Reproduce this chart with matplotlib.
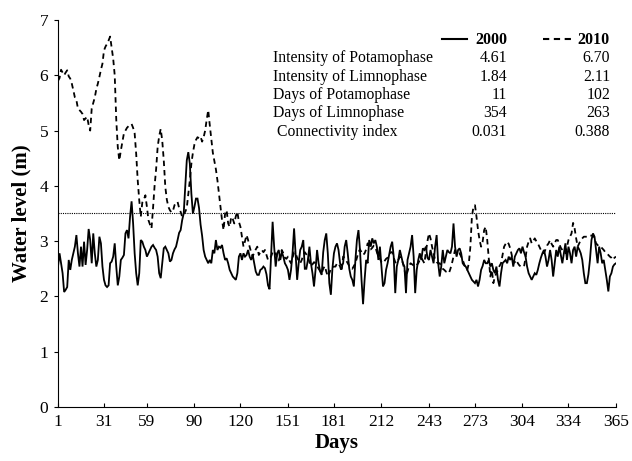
#!/usr/bin/env python
# -*- coding: utf-8 -*-

import numpy as np
import matplotlib
matplotlib.use("Agg")
import matplotlib.pyplot as plt
from matplotlib.lines import Line2D

plt.rcParams["font.family"] = "serif"
plt.rcParams["font.serif"] = ["Liberation Serif", "DejaVu Serif"]

# daily water level (m)
level_2000 = [
    2.54, 2.78, 2.60, 2.42, 2.08, 2.12, 2.17, 2.66, 2.48, 2.66,
    2.78, 2.90, 3.11, 2.78, 2.54, 2.90, 2.54, 2.99, 2.57, 2.84,
    3.22, 3.02, 2.60, 3.14, 2.78, 2.54, 2.66, 3.08, 2.96, 2.54,
    2.30, 2.20, 2.17, 2.20, 2.60, 2.63, 2.72, 2.96, 2.54, 2.20,
    2.36, 2.66, 2.70, 2.75, 3.14, 3.20, 3.05, 3.44, 3.72, 3.32,
    2.78, 2.42, 2.20, 2.42, 3.02, 2.99, 2.90, 2.84, 2.72, 2.78,
    2.84, 2.90, 2.93, 2.88, 2.84, 2.72, 2.42, 2.33, 2.60, 2.87,
    2.90, 2.84, 2.78, 2.63, 2.66, 2.78, 2.85, 2.90, 3.02, 3.15,
    3.20, 3.38, 3.50, 3.98, 4.46, 4.61, 4.40, 3.86, 3.50, 3.62,
    3.77, 3.77, 3.60, 3.30, 3.10, 2.84, 2.72, 2.66, 2.60, 2.66,
    2.60, 2.84, 2.78, 3.02, 2.84, 2.90, 2.88, 2.93, 2.78, 2.66,
    2.69, 2.60, 2.48, 2.42, 2.36, 2.33, 2.30, 2.42, 2.72, 2.78,
    2.66, 2.78, 2.72, 2.75, 2.84, 2.72, 2.66, 2.75, 2.60, 2.45,
    2.39, 2.39, 2.48, 2.50, 2.54, 2.51, 2.40, 2.20, 2.13, 2.75,
    3.35, 2.90, 2.54, 2.78, 2.84, 2.66, 2.80, 2.72, 2.60, 2.55,
    2.48, 2.30, 2.48, 2.78, 3.23, 2.75, 2.30, 2.60, 2.84, 2.90,
    3.02, 2.50, 2.50, 2.66, 2.90, 2.60, 2.42, 2.18, 2.48, 2.84,
    2.60, 2.45, 2.39, 2.80, 3.02, 3.14, 2.78, 2.24, 2.03, 2.50,
    2.78, 2.90, 2.96, 2.84, 2.60, 2.55, 2.60, 2.90, 3.02, 2.78,
    2.50, 2.36, 2.30, 2.18, 2.66, 3.02, 3.20, 2.84, 2.30, 1.86,
    2.30, 2.66, 2.60, 3.02, 2.90, 3.05, 2.96, 3.02, 2.90, 2.66,
    2.90, 2.54, 2.18, 2.24, 2.48, 2.60, 2.75, 2.90, 2.99, 2.72,
    2.06, 2.54, 2.66, 2.84, 2.72, 2.60, 2.54, 2.06, 2.66, 2.78,
    2.90, 3.11, 2.72, 2.06, 2.48, 2.66, 2.78, 2.66, 2.87, 2.84,
    2.90, 2.70, 2.66, 2.84, 2.72, 2.60, 2.90, 3.11, 2.60, 2.36,
    2.54, 2.84, 2.60, 2.72, 2.84, 2.80, 2.78, 2.90, 3.32, 2.90,
    2.72, 2.84, 2.87, 2.78, 2.60, 2.56, 2.54, 2.48, 2.42, 2.36,
    2.30, 2.27, 2.24, 2.30, 2.18, 2.30, 2.48, 2.55, 2.66, 2.60,
    2.60, 2.66, 2.54, 2.60, 2.48, 2.42, 2.54, 2.30, 2.18, 2.42,
    2.60, 2.63, 2.66, 2.60, 2.72, 2.66, 2.72, 2.54, 2.72, 2.78,
    2.84, 2.87, 2.78, 2.90, 2.80, 2.72, 2.54, 2.42, 2.36, 2.30,
    2.36, 2.42, 2.39, 2.48, 2.60, 2.70, 2.78, 2.84, 2.72, 2.54,
    2.66, 2.84, 2.66, 2.36, 2.60, 2.84, 2.72, 2.90, 2.75, 2.60,
    2.78, 2.96, 2.66, 2.90, 2.78, 2.60, 2.84, 2.90, 2.72, 2.90,
    2.85, 2.78, 2.66, 2.42, 2.24, 2.24, 2.40, 2.66, 3.02, 3.14,
    3.08, 2.84, 2.60, 2.90, 2.78, 2.60, 2.66, 2.48, 2.30, 2.09,
    2.36, 2.42, 2.54, 2.58, 2.60,
]

level_2010 = [
    5.90, 5.95, 6.10, 6.05, 6.00, 6.05, 6.09, 5.98, 5.94, 5.85,
    5.73, 5.60, 5.55, 5.40, 5.37, 5.34, 5.30, 5.19, 5.22, 5.25,
    5.10, 5.00, 5.40, 5.50, 5.60, 5.75, 5.85, 5.97, 6.10, 6.21,
    6.45, 6.52, 6.57, 6.63, 6.70, 6.50, 6.30, 6.00, 5.20, 4.70,
    4.46, 4.64, 4.80, 4.95, 5.00, 5.05, 5.08, 5.10, 5.12, 5.05,
    4.95, 4.58, 4.10, 3.74, 3.44, 3.70, 3.75, 3.83, 3.62, 3.38,
    3.30, 3.23, 3.60, 4.00, 4.30, 4.70, 4.90, 5.03, 4.82, 4.46,
    3.98, 3.75, 3.62, 3.56, 3.52, 3.55, 3.65, 3.70, 3.71, 3.60,
    3.53, 3.44, 3.50, 3.53, 3.60, 3.85, 4.10, 4.40, 4.60, 4.75,
    4.83, 4.88, 4.86, 4.89, 4.80, 4.88, 5.00, 5.20, 5.37, 5.10,
    4.85, 4.60, 4.45, 4.30, 4.10, 3.86, 3.62, 3.38, 3.20, 3.50,
    3.56, 3.32, 3.26, 3.44, 3.40, 3.32, 3.45, 3.53, 3.35, 3.26,
    3.08, 2.90, 3.00, 3.11, 3.02, 2.90, 2.80, 2.72, 2.80, 2.85,
    2.90, 2.75, 2.80, 2.84, 2.80, 2.84, 2.75, 2.66, 2.70, 2.72,
    2.80, 2.75, 2.78, 2.70, 2.65, 2.75, 2.84, 2.78, 2.70, 2.68,
    2.72, 2.65, 2.60, 2.70, 2.80, 2.78, 2.70, 2.65, 2.60, 2.66,
    2.75, 2.80, 2.76, 2.72, 2.62, 2.55, 2.58, 2.62, 2.60, 2.55,
    2.50, 2.46, 2.42, 2.50, 2.55, 2.45, 2.36, 2.42, 2.50, 2.52,
    2.54, 2.54, 2.60, 2.60, 2.54, 2.45, 2.72, 2.70, 2.65, 2.60,
    2.55, 2.52, 2.50, 2.55, 2.60, 2.70, 2.80, 2.85, 2.80, 2.75,
    2.78, 2.85, 2.96, 2.90, 2.85, 2.88, 2.92, 2.90, 2.80, 2.72,
    2.68, 2.62, 2.60, 2.64, 2.68, 2.70, 2.76, 2.80, 2.80, 2.70,
    2.62, 2.60, 2.66, 2.72, 2.68, 2.60, 2.48, 2.36, 2.45, 2.55,
    2.60, 2.58, 2.56, 2.54, 2.57, 2.60, 2.66, 2.70, 2.65, 2.60,
    2.80, 3.00, 3.14, 3.05, 2.90, 2.78, 2.66, 2.62, 2.60, 2.60,
    2.55, 2.50, 2.48, 2.45, 2.44, 2.42, 2.50, 2.60, 2.72, 2.84,
    2.80, 2.78, 2.78, 2.72, 2.66, 2.58, 2.52, 2.48, 2.60, 2.90,
    3.44, 3.62, 3.65, 3.44, 3.20, 3.02, 2.90, 2.99, 3.20, 3.26,
    3.02, 2.70, 2.36, 2.48, 2.24, 2.36, 2.42, 2.48, 2.55, 2.60,
    2.75, 2.90, 2.95, 2.99, 2.95, 2.87, 2.75, 2.60, 2.62, 2.66,
    2.60, 2.56, 2.54, 2.54, 2.54, 2.70, 2.90, 2.99, 3.05, 2.96,
    3.00, 3.05, 3.00, 2.96, 2.90, 2.84, 2.80, 2.78, 2.85, 2.92,
    2.96, 3.02, 2.95, 2.90, 2.96, 3.02, 3.02, 2.95, 2.88, 2.84,
    2.80, 2.78, 2.90, 3.02, 3.08, 3.14, 3.33, 3.23, 3.05, 2.90,
    2.96, 3.02, 3.05, 3.08, 3.08, 3.08, 3.08, 3.10, 3.10, 3.11,
    3.05, 2.96, 2.93, 2.90, 2.90, 2.87, 2.84, 2.80, 2.78, 2.75,
    2.72, 2.70, 2.66, 2.70, 2.72,
]

threshold = 3.5
day_ticks = [1, 31, 59, 90, 120, 151, 181, 212, 243, 273, 304, 334, 365]

row_names = ["Intensity of Potamophase", "Intensity of Limnophase",
             "Days of Potamophase", "Days of Limnophase", " Connectivity index"]
col_2000 = ["4.61", "1.84", "11", "354", "0.031"]
col_2010 = ["6.70", "2.11", "102", "263", "0.388"]

W, H = 632, 461


def fx(px):
    return px / W


def fy(py):
    return 1 - py / H


fig = plt.figure(figsize=(W / 100, H / 100), dpi=100)
ax = fig.add_axes([fx(58), fy(407), fx(616) - fx(58), fy(20) - fy(407)])

days = np.arange(1, len(level_2000) + 1)
ax.plot(days, level_2000, color="black", lw=1.3, solid_joinstyle="miter")
ax.plot(np.arange(1, len(level_2010) + 1), level_2010, color="black",
        lw=1.3, linestyle=(0, (3, 2.2)))
ax.axhline(threshold, color="black", lw=0.8, linestyle=(0, (1, 1)))

ax.set_xlim(1, 365)
ax.set_ylim(0, 7)
ax.set_xticks(day_ticks)
ax.set_yticks(range(0, 8))
ax.spines["top"].set_visible(False)
ax.spines["right"].set_visible(False)
ax.tick_params(axis="x", direction="in", length=3, pad=5, labelsize=12.5)
ax.tick_params(axis="y", direction="out", length=3, pad=4, labelsize=12.5)

ax.set_xlabel("Days", fontsize=15, fontweight="bold", labelpad=2)
ax.set_ylabel("Water level (m)", fontsize=15, fontweight="bold", labelpad=6)

# table of indices with line keys
fig.add_artist(Line2D([fx(442), fx(467)], [fy(39.5), fy(39.5)], color="black",
                      lw=1.5, transform=fig.transFigure))
fig.add_artist(Line2D([fx(543), fx(571)], [fy(39.5), fy(39.5)], color="black",
                      lw=1.5, linestyle=(0, (3, 2.2)), transform=fig.transFigure))
fig.text(fx(507), fy(39.5), "2000", ha="right", va="center", fontsize=11.5,
         fontweight="bold")
fig.text(fx(610), fy(39.5), "2010", ha="right", va="center", fontsize=11.5,
         fontweight="bold")

for i, name in enumerate(row_names):
    yy = fy(58.3 + i * 18.3)
    fig.text(fx(273), yy, name, ha="left", va="center", fontsize=11.3)
    fig.text(fx(507), yy, col_2000[i], ha="right", va="center", fontsize=11.3)
    fig.text(fx(610), yy, col_2010[i], ha="right", va="center", fontsize=11.3)

fig.savefig("out.png", dpi=100)
